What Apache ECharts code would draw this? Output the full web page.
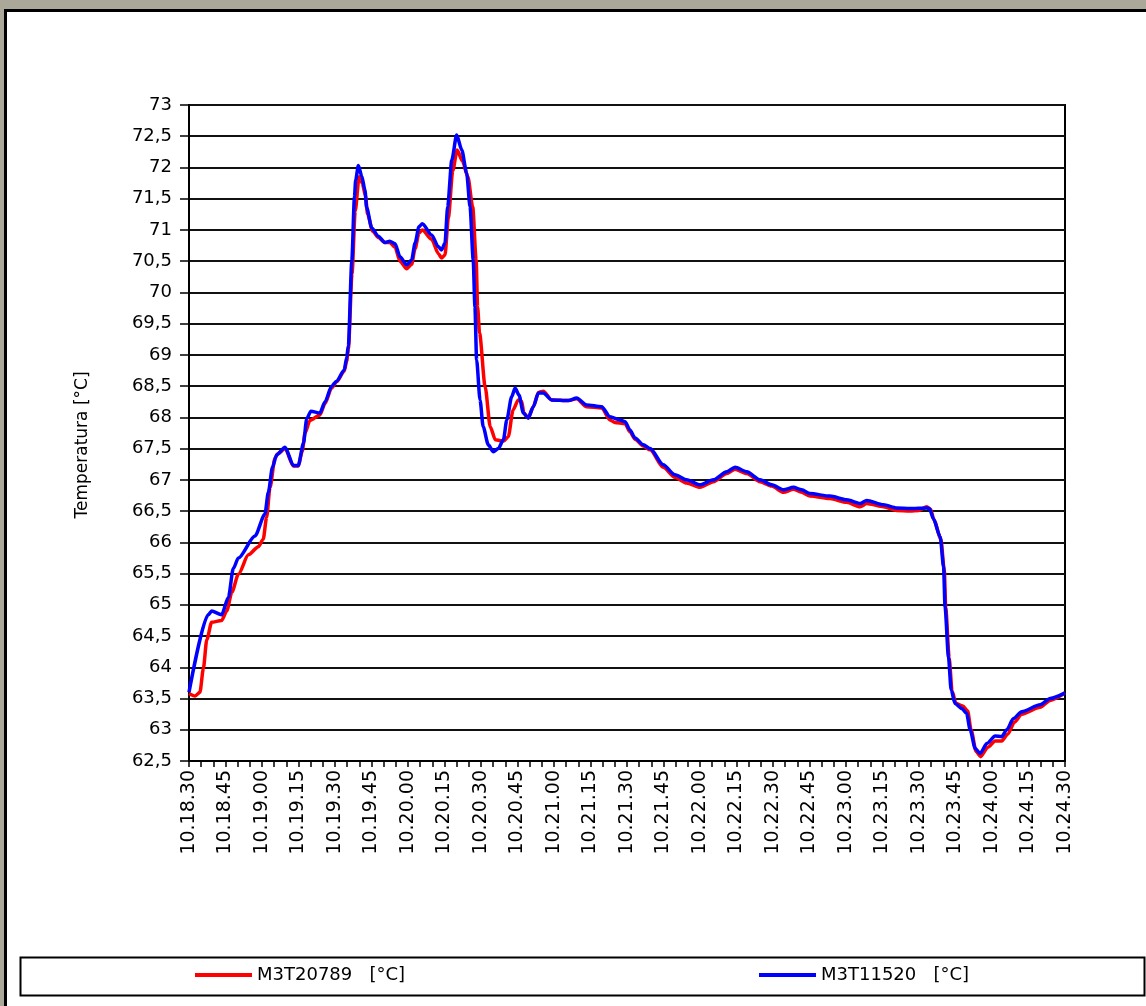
<!DOCTYPE html>
<html>
<head>
<meta charset="utf-8">
<script src="https://cdn.jsdelivr.net/npm/echarts@6/dist/echarts.min.js"></script>
<style>
  html, body { margin: 0; padding: 0; width: 1146px; height: 1006px; overflow: hidden; background: #aca899; }
  #frame { position: absolute; left: 4px; top: 9px; width: 1160px; height: 1020px; border: 3px solid #000; background: #fff; }
  #chart { position: absolute; left: 0; top: 0; width: 1146px; height: 1006px; }
</style>
</head>
<body>
<div id="frame"></div>
<div id="chart"></div>
<script>
// time labels every 15 s (x axis in seconds from 10.18.30)
const tickLabels = ['10.18.30','10.18.45','10.19.00','10.19.15','10.19.30','10.19.45','10.20.00','10.20.15',
  '10.20.30','10.20.45','10.21.00','10.21.15','10.21.30','10.21.45','10.22.00','10.22.15','10.22.30',
  '10.22.45','10.23.00','10.23.15','10.23.30','10.23.45','10.24.00','10.24.15','10.24.30'];

const seriesNames = ['M3T20789   [°C]', 'M3T11520   [°C]'];

// M3T20789 (red): seconds after 10.18.30, temperature
const redT = [0,2.5,4.5,5.9,7.3,9.3,13.4,15.5,17.6,20.3,24.4,28.5,30.5,31.9,33.3,35.3,36.5,39.5,42.9,44.9,
  46.5,47.7,49.7,53.8,55.9,58.6,60.7,63.8,64.8,65.5,67.0,68.3,69.9,71.2,72.5,73.4,75.5,77.8,80.5,82.5,
  84.7,86.7,89.5,91.5,92.9,94.5,95.9,99.7,102.5,103.8,105.2,106.6,108.4,110.2,112.4,114.6,116.6,118,118.6,119.4,
  121.7,123.8,125.9,129.3,131.2,133.2,135.3,136.7,137.6,139.4,141.5,143.6,145.6,149,155.9,159.3,163.4,169.6,173,175,
  179.2,181.2,183.3,186.7,189.5,194.9,199.7,204.5,210,215.5,221,224.4,229.2,234.7,239.5,244.3,248.4,251.8,255.2,263.4,
  270.3,275.8,278.5,285.4,290.9,296.3,300,303.2,304.8,306.2,309,310.4,311,312.4,313.6,315.2,318,320,321.4,323.5,
  325.3,328.3,331.3,334,336.5,339.2,342.2,349.8,353.9,360];
const redV = [63.58,63.54,63.6,63.98,64.44,64.72,64.75,64.9,65.2,65.49,65.8,65.93,66.05,66.4,66.88,67.34,67.42,67.5,67.22,67.22,
  67.45,67.75,67.95,68.04,68.22,68.47,68.57,68.74,68.9,69.1,70.3,71.3,71.85,71.75,71.55,71.25,70.98,70.88,70.8,70.8,
  70.72,70.5,70.38,70.45,70.7,70.95,71.0,70.85,70.62,70.55,70.6,71.2,71.95,72.28,72.1,71.85,71.37,70.52,69.77,69.35,
  68.49,67.85,67.64,67.62,67.69,68.12,68.28,68.26,68.07,67.99,68.17,68.4,68.42,68.28,68.27,68.3,68.17,68.15,67.96,67.92,
  67.9,67.77,67.65,67.54,67.48,67.2,67.04,66.95,66.88,66.97,67.1,67.17,67.1,66.97,66.9,66.8,66.85,66.8,66.74,66.7,
  66.64,66.57,66.62,66.57,66.51,66.5,66.51,66.57,66.53,66.35,66.05,65.55,64.95,64.15,63.62,63.42,63.38,63.3,63.0,62.65,
  62.57,62.72,62.82,62.82,62.93,63.12,63.25,63.36,63.47,63.59];

// M3T11520 (blue)
const blueT = [0,7.9,9.3,13.4,16.2,18.2,20.3,27.1,31.2,32.6,34.3,36,39.5,42.9,44.9,47,48.4,50.1,53.8,55.9,
  58.6,60.7,63.8,64.8,65.5,66.9,68,68.5,69.6,71,72.3,73,75.1,77.8,80.5,82.5,84.7,86.7,89.5,91.5,
  92.9,94.5,95.9,99.7,102.5,103.8,105.2,106.3,108,110,112.1,114.1,115.5,116.8,117.5,118.2,119.6,120.9,123,125.1,
  127.1,129.2,130.6,132.6,134,135.6,137.4,139.4,141.5,143.6,145.6,149,155.9,159.3,163.4,169.6,173,177.1,179.2,181.2,
  183.3,186.7,189.5,194.9,199.7,204.5,210,215.5,221,224.4,229.2,234.7,239.5,244.3,248.4,251.8,255.2,263.4,270.3,275.8,
  278.5,285.4,290.9,296.3,303.2,304.3,305.9,308.7,310.1,310.7,312.1,313.2,314.8,317.6,319.6,321,323.1,325.1,327.9,331.3,
  334,336.1,338.8,342.2,349.8,353.9,360];
const blueV = [63.6,64.84,64.9,64.84,65.12,65.58,65.75,66.1,66.45,66.8,67.2,67.4,67.52,67.23,67.23,67.58,67.98,68.1,68.07,68.25,
  68.5,68.58,68.76,68.96,69.15,70.5,71.53,71.8,72.03,71.86,71.64,71.36,71.03,70.9,70.8,70.82,70.78,70.57,70.44,70.52,
  70.79,71.05,71.1,70.92,70.73,70.68,70.79,71.37,72.12,72.52,72.28,71.91,71.37,70.52,69.77,68.92,68.28,67.85,67.56,67.45,
  67.5,67.64,67.96,68.33,68.47,68.36,68.07,67.99,68.17,68.39,68.39,68.28,68.27,68.31,68.2,68.17,68.01,67.96,67.93,67.8,
  67.67,67.56,67.5,67.24,67.08,67.0,66.92,67.0,67.13,67.2,67.13,67.0,66.92,66.84,66.88,66.84,66.78,66.74,66.68,66.62,
  66.67,66.6,66.55,66.54,66.55,66.54,66.38,66.09,65.61,64.97,64.17,63.64,63.42,63.34,63.26,63.0,62.7,62.62,62.78,62.9,
  62.89,63.0,63.18,63.29,63.4,63.5,63.59];

const zip = (t, v) => t.map((x, i) => [x, v[i]]);
const FONT = 'DejaVu Sans';

const chart = echarts.init(document.getElementById('chart'), null, { renderer: 'canvas' });
chart.setOption({
  animation: false,
  backgroundColor: 'transparent',
  textStyle: { fontFamily: FONT, color: '#000' },
  grid: { left: 189, top: 105, width: 876, height: 656, show: true, borderColor: '#000', borderWidth: 2, backgroundColor: 'transparent' },
  legend: [
    { data: [seriesNames[0]], left: 190, top: 961, icon: 'rect', itemWidth: 57, itemHeight: 4, itemGap: 0,
      textStyle: { fontFamily: FONT, fontSize: 18, color: '#000' } },
    { data: [seriesNames[1]], left: 754, top: 961, icon: 'rect', itemWidth: 57, itemHeight: 4, itemGap: 0,
      textStyle: { fontFamily: FONT, fontSize: 18, color: '#000' } }
  ],
  graphic: [
    { type: 'rect', left: 18, top: 955, shape: { width: 1124, height: 38 }, style: { fill: 'none', stroke: '#000', lineWidth: 2 } }
  ],
  xAxis: {
    type: 'value', min: 0, max: 360, interval: 5,
    axisLine: { show: true, onZero: false, lineStyle: { color: '#000', width: 2 } },
    axisTick: { show: true, length: 6, lineStyle: { color: '#000', width: 1.5 } },
    splitLine: { show: false },
    axisLabel: {
      rotate: 90, margin: 9, fontSize: 19, fontFamily: FONT, color: '#000',
      formatter: v => (Math.round(v) % 15 === 0 ? tickLabels[Math.round(v) / 15] : '')
    }
  },
  yAxis: {
    type: 'value', min: 62.5, max: 73, interval: 0.5,
    name: 'Temperatura [°C]', nameLocation: 'middle', nameGap: 98,
    nameTextStyle: { fontFamily: FONT, fontSize: 17, color: '#000', padding: [0, 24, 0, 0] },
    axisLine: { show: true, lineStyle: { color: '#000', width: 2 } },
    axisTick: { show: true, length: 9, lineStyle: { color: '#000', width: 1.5 } },
    splitLine: { show: true, lineStyle: { color: '#111', width: 2 } },
    axisLabel: { margin: 17, fontSize: 18, fontFamily: FONT, color: '#000',
      formatter: v => String(v).replace('.', ',') }
  },
  series: [
    { name: seriesNames[0], type: 'line', data: zip(redT, redV), showSymbol: false, symbol: 'none',
      smooth: 0.25, smoothMonotone: 'x', lineStyle: { color: '#ff0000', width: 3.5 }, itemStyle: { color: '#ff0000' } },
    { name: seriesNames[1], type: 'line', data: zip(blueT, blueV), showSymbol: false, symbol: 'none',
      smooth: 0.25, smoothMonotone: 'x', lineStyle: { color: '#0000ff', width: 3.5 }, itemStyle: { color: '#0000ff' } }
  ]
});
</script>
</body>
</html>
